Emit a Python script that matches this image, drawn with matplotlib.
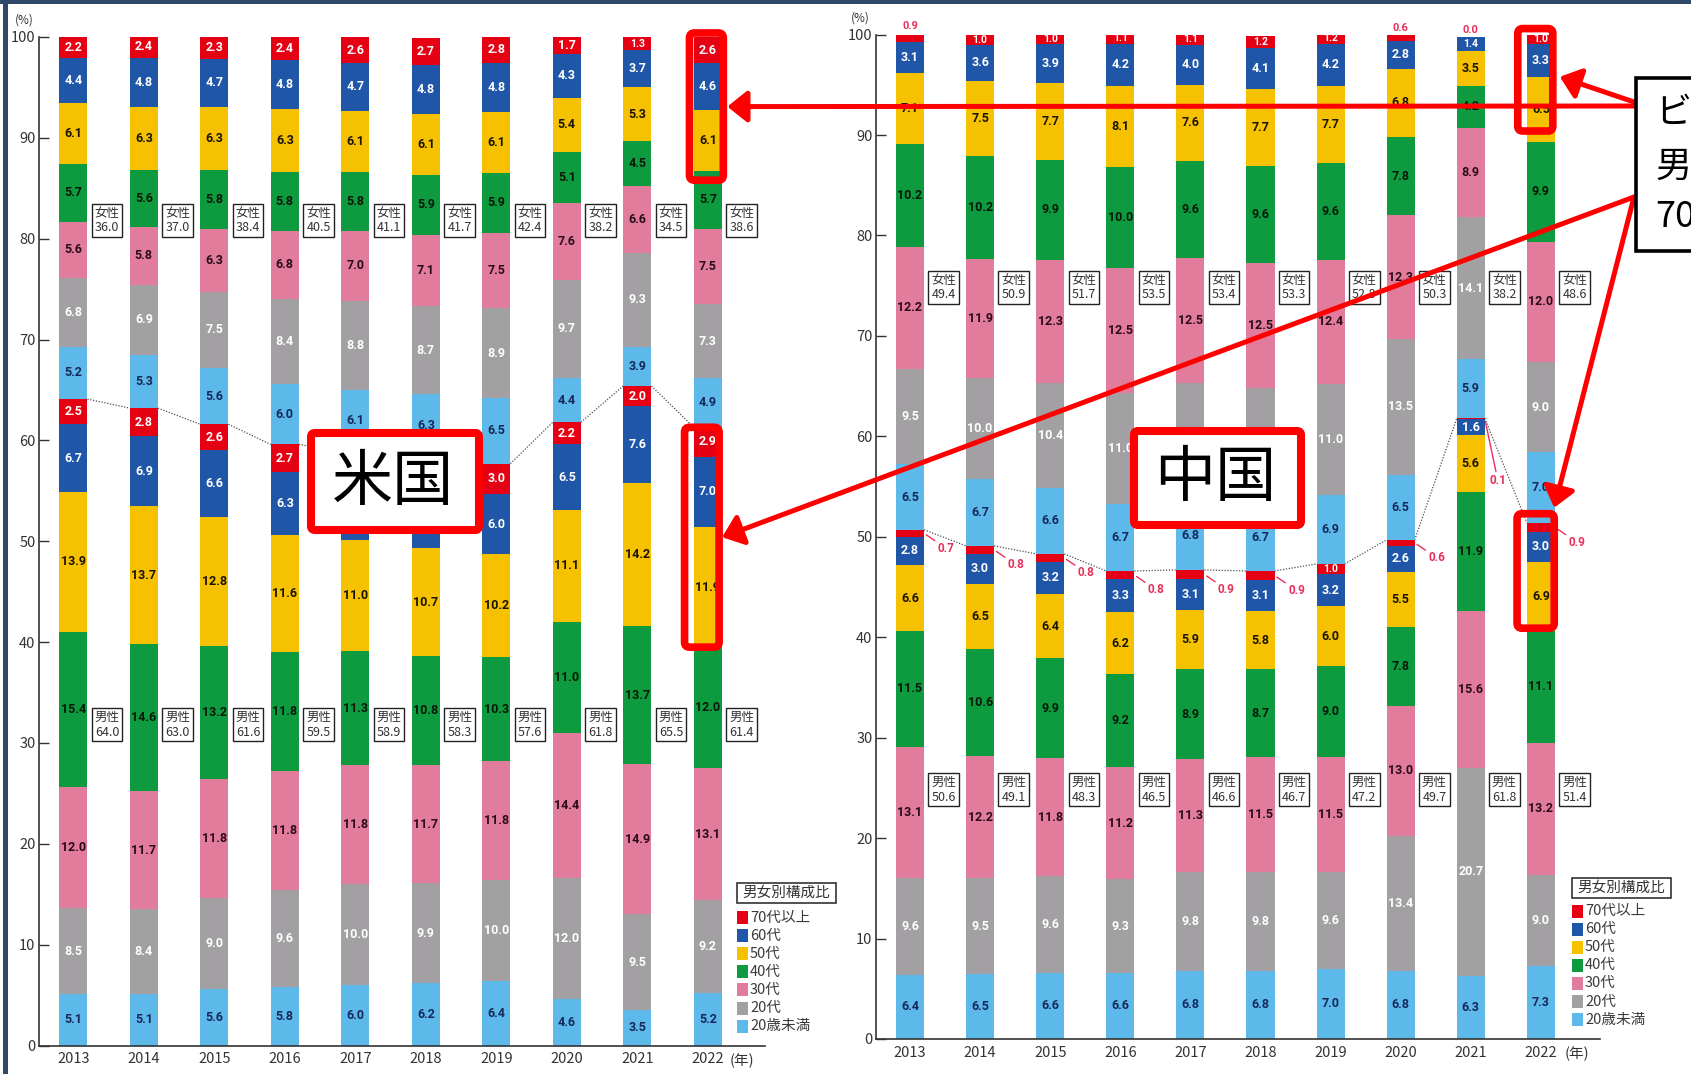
import numpy as np
import matplotlib
matplotlib.use("Agg")
import matplotlib.pyplot as plt
from matplotlib.patches import FancyBboxPatch, Rectangle

plt.rcParams['font.family'] = ['Noto Sans CJK JP', 'DejaVu Sans']

W_PX, H_PX = 1691, 1074

years = ['2013', '2014', '2015', '2016', '2017', '2018', '2019', '2020', '2021', '2022']
age_groups = ['20歳未満', '20代', '30代', '40代', '50代', '60代', '70代以上']
seg_colors = ['#5DB9E9', '#A3A0A4', '#E17C9D', '#0E9A3E', '#F6C100', '#1F56A7', '#E60014']
txt_colors = ['#14285A', 'white', '#2B0B16', '#081808', '#1A1400', 'white', 'white']

# United States — rows: 20歳未満, 20代, 30代, 40代, 50代, 60代, 70代以上
us_male = [
    [5.1, 5.1, 5.6, 5.8, 6.0, 6.2, 6.4, 4.6, 3.5, 5.2],
    [8.5, 8.4, 9.0, 9.6, 10.0, 9.9, 10.0, 12.0, 9.5, 9.2],
    [12.0, 11.7, 11.8, 11.8, 11.8, 11.7, 11.8, 14.4, 14.9, 13.1],
    [15.4, 14.6, 13.2, 11.8, 11.3, 10.8, 10.3, 11.0, 13.7, 12.0],
    [13.9, 13.7, 12.8, 11.6, 11.0, 10.7, 10.2, 11.1, 14.2, 11.9],
    [6.7, 6.9, 6.6, 6.3, 6.1, 6.3, 6.0, 6.5, 7.6, 7.0],
    [2.5, 2.8, 2.6, 2.7, 2.7, 2.7, 3.0, 2.2, 2.0, 2.9],
]
us_female = [
    [5.2, 5.3, 5.6, 6.0, 6.1, 6.3, 6.5, 4.4, 3.9, 4.9],
    [6.8, 6.9, 7.5, 8.4, 8.8, 8.7, 8.9, 9.7, 9.3, 7.3],
    [5.6, 5.8, 6.3, 6.8, 7.0, 7.1, 7.5, 7.6, 6.6, 7.5],
    [5.7, 5.6, 5.8, 5.8, 5.8, 5.9, 5.9, 5.1, 4.5, 5.7],
    [6.1, 6.3, 6.3, 6.3, 6.1, 6.1, 6.1, 5.4, 5.3, 6.1],
    [4.4, 4.8, 4.7, 4.8, 4.7, 4.8, 4.8, 4.3, 3.7, 4.6],
    [2.2, 2.4, 2.3, 2.4, 2.6, 2.7, 2.8, 1.7, 1.3, 2.6],
]
us_male_total = [64.0, 63.0, 61.6, 59.5, 58.9, 58.3, 57.6, 61.8, 65.5, 61.4]
us_female_total = [36.0, 37.0, 38.4, 40.5, 41.1, 41.7, 42.4, 38.2, 34.5, 38.6]

# China
cn_male = [
    [6.4, 6.5, 6.6, 6.6, 6.8, 6.8, 7.0, 6.8, 6.3, 7.3],
    [9.6, 9.5, 9.6, 9.3, 9.8, 9.8, 9.6, 13.4, 20.7, 9.0],
    [13.1, 12.2, 11.8, 11.2, 11.3, 11.5, 11.5, 13.0, 15.6, 13.2],
    [11.5, 10.6, 9.9, 9.2, 8.9, 8.7, 9.0, 7.8, 11.9, 11.1],
    [6.6, 6.5, 6.4, 6.2, 5.9, 5.8, 6.0, 5.5, 5.6, 6.9],
    [2.8, 3.0, 3.2, 3.3, 3.1, 3.1, 3.2, 2.6, 1.6, 3.0],
    [0.7, 0.8, 0.8, 0.8, 0.9, 0.9, 1.0, 0.6, 0.1, 0.9],
]
cn_female = [
    [6.5, 6.7, 6.6, 6.7, 6.8, 6.7, 6.9, 6.5, 5.9, 7.0],
    [9.5, 10.0, 10.4, 11.0, 11.8, 11.5, 11.0, 13.5, 14.1, 9.0],
    [12.2, 11.9, 12.3, 12.5, 12.5, 12.5, 12.4, 12.3, 8.9, 12.0],
    [10.2, 10.2, 9.9, 10.0, 9.6, 9.6, 9.6, 7.8, 4.2, 9.9],
    [7.1, 7.5, 7.7, 8.1, 7.6, 7.7, 7.7, 6.8, 3.5, 6.5],
    [3.1, 3.6, 3.9, 4.2, 4.0, 4.1, 4.2, 2.8, 1.4, 3.3],
    [0.9, 1.0, 1.0, 1.1, 1.1, 1.2, 1.2, 0.6, 0.0, 1.0],
]
cn_male_total = [50.6, 49.1, 48.3, 46.5, 46.6, 46.7, 47.2, 49.7, 61.8, 51.4]
cn_female_total = [49.4, 50.9, 51.7, 53.5, 53.4, 53.3, 52.8, 50.3, 38.2, 48.6]

BAR_W = 0.4
NUM_FONT = dict(family=['Roboto', 'DejaVu Sans'], weight='bold')
PINK_RED = '#E8305A'

# country label boxes (pixel coordinates, y downwards)
us_label_box = (311, 433, 479, 530)
cn_label_box = (1134, 431, 1301, 525)

fig = plt.figure(figsize=(W_PX / 100, H_PX / 100), dpi=100)
fig.patch.set_facecolor('white')


def axes_rect(left, right, top, bottom):
    return [left / W_PX, 1 - bottom / H_PX, (right - left) / W_PX, (bottom - top) / H_PX]


ax_us = fig.add_axes(axes_rect(39, 765, 37, 1045.5))
ax_cn = fig.add_axes(axes_rect(876, 1600, 34.6, 1039))
ax_us.set_xlim(-0.487, 9.811)
ax_cn.set_xlim(-0.485, 9.843)
ax_us.set_ylim(0, 100)
ax_cn.set_ylim(0, 100)


def px(ax, x, y):
    X, Y = ax.transData.transform((x, y))
    return X, H_PX - Y


def covered(ax, x, y, box):
    X, Y = px(ax, x, y)
    x0, y0, x1, y1 = box
    return (x0 - 12) <= X <= (x1 + 12) and (y0 - 6) <= Y <= (y1 + 6)


def style_axes(ax):
    ax.set_ylim(0, 100)
    ax.set_yticks(range(0, 101, 10))
    ax.set_xticks(range(len(years)))
    ax.set_xticklabels(years)
    for s in ('top', 'right'):
        ax.spines[s].set_visible(False)
    for s in ('left', 'bottom'):
        ax.spines[s].set_color('#333333')
        ax.spines[s].set_linewidth(1.2)
    ax.tick_params(axis='y', direction='in', length=7, width=1, colors='#333333',
                   labelsize=10.5, pad=2.5)
    ax.tick_params(axis='x', length=0, labelsize=10.5, pad=5, colors='#333333')
    ax.set_facecolor('none')


def seg_label(ax, x, y, v, color, size=9):
    ax.text(x, y, f"{v:.1f}", ha='center', va='center', color=color,
            fontsize=size, zorder=4, **NUM_FONT)


def draw_panel(ax, male, female, male_tot, female_tot, china, male_box_y, female_box_y,
               hide_box, small_offsets=None):
    x = np.arange(len(years))
    base = np.zeros(len(years))
    male_top = None
    for sex, table in (('m', male), ('f', female)):
        for k, row in enumerate(table):
            vals = np.asarray(row, float)
            ax.bar(x, vals, BAR_W, bottom=base, color=seg_colors[k], linewidth=0, zorder=2)
            for i, v in enumerate(vals):
                yc = base[i] + v / 2
                if china and k == 6:
                    if sex == 'm' and v < 1.0:
                        off = (small_offsets or {}).get(i, (15.8, -10.8))
                        ax.annotate(f"{v:.1f}", xy=(i + BAR_W / 2, yc), xytext=off,
                                    textcoords='offset points', ha='center', va='center',
                                    color=PINK_RED, fontsize=8.5, zorder=4,
                                    arrowprops=dict(arrowstyle='-', color=PINK_RED, lw=1,
                                                    shrinkA=0, shrinkB=2),
                                    **NUM_FONT)
                    elif sex == 'f' and v < 1.0:
                        ax.text(i, base[i] + v + 0.15, f"{v:.1f}", ha='center', va='bottom',
                                color=PINK_RED, fontsize=8, zorder=4, **NUM_FONT)
                    else:
                        seg_label(ax, i, yc, v, 'white', size=7.5)
                else:
                    if covered(ax, i, yc, hide_box):
                        continue
                    seg_label(ax, i, yc, v, txt_colors[k], size=9 if v >= 1.5 else 7.5)
            base = base + vals
        if sex == 'm':
            male_top = base.copy()

    # dotted line joining the male totals
    for i in range(len(years) - 1):
        ax.plot([i + BAR_W / 2, i + 1 - BAR_W / 2], [male_top[i], male_top[i + 1]],
                ls=(0, (1, 1.3)), color='#505050', lw=0.9, zorder=1)

    box = dict(boxstyle='square,pad=0.22', fc='white', ec='#222222', lw=1)
    for i in range(len(years)):
        ax.text(i + 0.48, female_box_y, f"女性\n{female_tot[i]:.1f}", ha='center', va='center',
                fontsize=9, linespacing=1.15, color='#333333', bbox=box, zorder=5)
        ax.text(i + 0.48, male_box_y, f"男性\n{male_tot[i]:.1f}", ha='center', va='center',
                fontsize=9, linespacing=1.15, color='#333333', bbox=box, zorder=5)
    return male_top


us_male_top = draw_panel(ax_us, us_male, us_female, us_male_total, us_female_total,
                         False, 31.8, 81.8, us_label_box)
cn_male_top = draw_panel(ax_cn, cn_male, cn_female, cn_male_total, cn_female_total,
                         True, 24.8, 74.8, cn_label_box, small_offsets={8: (9.4, -44.6)})
style_axes(ax_us)
style_axes(ax_cn)

# overlay in pixel coordinates (y downwards)
ov = fig.add_axes([0, 0, 1, 1], zorder=10)
ov.set_xlim(0, W_PX)
ov.set_ylim(H_PX, 0)
ov.axis('off')
ov.patch.set_alpha(0)

# frame lines
ov.add_patch(Rectangle((3, 0), 5, H_PX, color='#2F4A68', lw=0))
ov.add_patch(Rectangle((0, 0), W_PX, 3.5, color='#2F4A68', lw=0))

# percent / year unit labels
ov.text(24, 20, '(%)', ha='center', va='center', fontsize=8.5, color='#333333')
ov.text(860, 18, '(%)', ha='center', va='center', fontsize=8.5, color='#333333')
ov.text(742, 1060.5, '(年)', ha='center', va='center', fontsize=10.5, color='#333333')
ov.text(1577, 1053.6, '(年)', ha='center', va='center', fontsize=10.5, color='#333333')


def legend(x_marker, title_box, y_first):
    bx, by, bw, bh = title_box
    ov.add_patch(Rectangle((bx, by), bw, bh, fc='white', ec='#333333', lw=1.2))
    ov.text(bx + bw / 2, by + bh / 2, '男女別構成比', ha='center', va='center',
            fontsize=10.5, color='#333333')
    for j, k in enumerate(reversed(range(len(age_groups)))):
        y = y_first + 18.1 * j
        ov.add_patch(Rectangle((x_marker, y - 6.5), 11, 13, color=seg_colors[k], lw=0))
        ov.text(x_marker + 13, y, age_groups[k], ha='left', va='center',
                fontsize=10.5, color='#3a3a3a')


legend(737, (737, 883, 99, 20), 917.5)
legend(1572, (1572, 878, 99, 20), 911)


def red_frame(ax, x0, x1, y0, y1):
    X0, Y0 = px(ax, x0, y1)
    X1, Y1 = px(ax, x1, y0)
    ov.add_patch(FancyBboxPatch((X0, Y0), X1 - X0, Y1 - Y0,
                                boxstyle='round,pad=0,rounding_size=5',
                                fill=False, ec='red', lw=5.5, zorder=6))
    return X0, Y0, X1, Y1


last = len(years) - 1
us_f50_bottom = us_male_top[last] + sum(us_female[k][last] for k in range(4))
us_m40_top = sum(us_male[k][last] for k in range(4))
cn_f50_bottom = cn_male_top[last] + sum(cn_female[k][last] for k in range(4))
cn_m40_top = sum(cn_male[k][last] for k in range(4))

f_us_top = red_frame(ax_us, last - 0.26, last + 0.22, us_f50_bottom - 0.9, 100.4)
f_us_bot = red_frame(ax_us, last - 0.33, last + 0.16, us_m40_top, us_male_top[last])
f_cn_top = red_frame(ax_cn, last - 0.33, last + 0.17, cn_f50_bottom + 1.1, 100.6)
f_cn_bot = red_frame(ax_cn, last - 0.34, last + 0.19, cn_m40_top + 0.3, cn_male_top[last] + 0.9)


def arrow(start, tip):
    ov.annotate('', xy=tip, xytext=start, zorder=7,
                arrowprops=dict(arrowstyle='-|>,head_length=1.0,head_width=0.8',
                                mutation_scale=12, lw=3.6, color='red',
                                shrinkA=0, shrinkB=0))


arrow((1637, 106), (f_us_top[2] + 4, (f_us_top[1] + f_us_top[3]) / 2))
arrow((1637, 103), (f_cn_top[2] + 7, (f_cn_top[1] + f_cn_top[3]) / 2 - 3))
arrow((1634, 197), (f_us_bot[2] + 3, (f_us_bot[1] + f_us_bot[3]) / 2))
arrow((1634, 197), (f_cn_bot[2], f_cn_bot[1] - 6))

# country labels
for (x0, y0, x1, y1), name in ((us_label_box, '米国'), (cn_label_box, '中国')):
    ov.add_patch(FancyBboxPatch((x0, y0), x1 - x0, y1 - y0,
                                boxstyle='round,pad=0,rounding_size=4',
                                fc='white', ec='red', lw=5.8, zorder=8))
    ov.text((x0 + x1) / 2 - 2, (y0 + y1) / 2 + 1, name, ha='center', va='center',
            fontsize=44, color='black', zorder=9)

# callout on the right edge
ov.add_patch(Rectangle((1636, 78), 140, 173, fc='white', ec='black', lw=2.6, zorder=8,
                       clip_on=False))
for y, line in ((113, 'ビジネス客は'), (167, '男性が中心'), (217, '70代以上は少ない')):
    ov.text(1655, y, line, ha='left', va='center', fontsize=26, color='black', zorder=9)

fig.savefig('out.png', dpi=100, facecolor='white')
